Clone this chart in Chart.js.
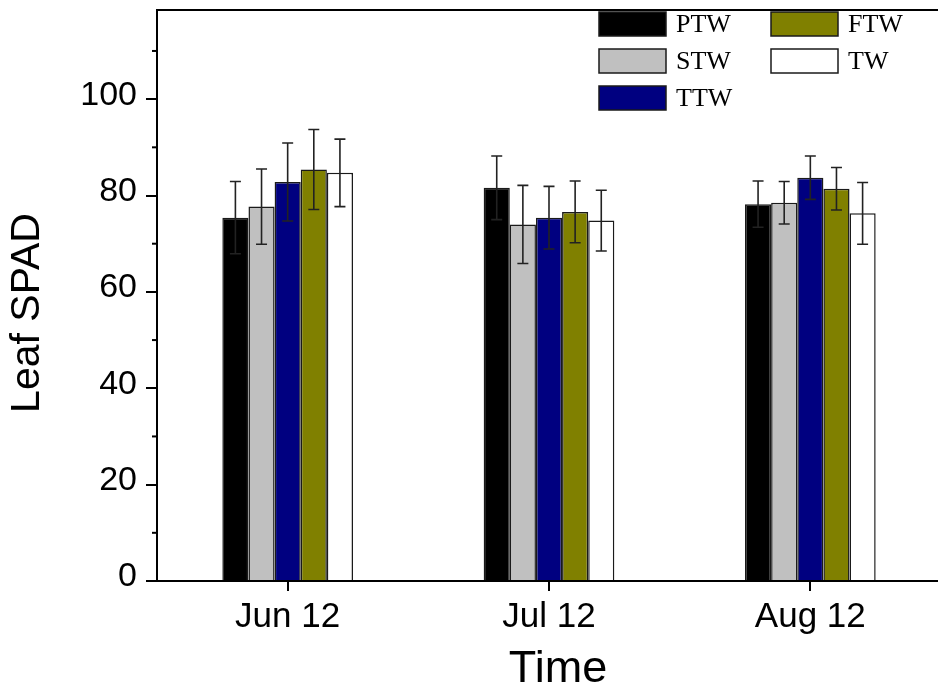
<!DOCTYPE html>
<html>
<head>
<meta charset="utf-8">
<title>Leaf SPAD</title>
<script src="https://cdn.jsdelivr.net/npm/chart.js@4.4.1/dist/chart.umd.min.js"></script>
<style>
  html, body { margin:0; padding:0; background:#fff; overflow:hidden; }
  canvas { display:block; }
</style>
</head>
<body>
<canvas id="spadChart" width="941" height="693"></canvas>
<script>
// Valores (media y desviación)
const CATEGORIES = ["Jun 12", "Jul 12", "Aug 12"];
const SERIES = ["PTW", "STW", "TTW", "FTW", "TW"];
const PTW = [75.4, 81.6, 78.2];
const STW = [77.7, 74.0, 78.5];
const TTW = [82.8, 75.4, 83.7];
const FTW = [85.4, 76.6, 81.4];
const TW  = [84.7, 74.8, 76.3];
const PTW_ERR = [7.5, 6.6, 4.8];
const STW_ERR = [7.8, 8.1, 4.4];
const TTW_ERR = [8.1, 6.5, 4.5];
const FTW_ERR = [8.3, 6.4, 4.4];
const TW_ERR  = [7.0, 6.3, 6.4];
const Y_TICKS = [0, 20, 40, 60, 80, 100];
const Y_MINOR = [10, 30, 50, 70, 90, 110];

const COLORS = ["#000000", "#c0c0c0", "#000080", "#808000", "#ffffff"];
const VALUES = [PTW, STW, TTW, FTW, TW];
const ERRORS = [PTW_ERR, STW_ERR, TTW_ERR, FTW_ERR, TW_ERR];

const SANS = "'Liberation Sans', Arial, sans-serif";
const SERIF = "'Liberation Serif', 'Times New Roman', serif";

// Barras de error, ticks menores, borde superior, leyenda y títulos
const extras = {
  id: "extras",
  afterDatasetsDraw(chart){
    const ctx = chart.ctx, y = chart.scales.y;
    ctx.save();
    ctx.strokeStyle = "#222";
    ctx.lineWidth = 1.6;
    chart.data.datasets.forEach((ds, di)=>{
      chart.getDatasetMeta(di).data.forEach((bar, i)=>{
        const hi = y.getPixelForValue(ds.data[i] + ds.err[i]);
        const lo = y.getPixelForValue(ds.data[i] - ds.err[i]);
        ctx.beginPath();
        ctx.moveTo(bar.x, hi); ctx.lineTo(bar.x, lo);
        ctx.moveTo(bar.x - 5.5, hi); ctx.lineTo(bar.x + 5.5, hi);
        ctx.moveTo(bar.x - 5.5, lo); ctx.lineTo(bar.x + 5.5, lo);
        ctx.stroke();
      });
    });
    ctx.restore();
  },
  afterDraw(chart){
    const ctx = chart.ctx, a = chart.chartArea, y = chart.scales.y;
    ctx.save();
    ctx.strokeStyle = "#000";
    ctx.lineWidth = 2;
    // borde superior
    ctx.beginPath();
    ctx.moveTo(a.left - 1, a.top); ctx.lineTo(a.right, a.top);
    ctx.stroke();
    // ticks menores
    Y_MINOR.forEach(v=>{
      const py = y.getPixelForValue(v);
      ctx.beginPath();
      ctx.moveTo(a.left - 5, py); ctx.lineTo(a.left, py);
      ctx.stroke();
    });

    // leyenda (2 columnas)
    ctx.font = "26px " + SERIF;
    ctx.textAlign = "left";
    ctx.textBaseline = "alphabetic";
    ctx.lineWidth = 1.5;
    chart.data.datasets.forEach((ds, i)=>{
      const col = i < 3 ? 0 : 1, row = i % 3;
      const bx = col ? 771 : 599, by = 12 + row * 37;
      ctx.fillStyle = ds.backgroundColor;
      ctx.fillRect(bx, by, 67, 24);
      ctx.strokeStyle = "#1a1a1a";
      ctx.strokeRect(bx, by, 67, 24);
      ctx.fillStyle = "#000";
      ctx.fillText(ds.label, bx + 77, by + 20);
    });

    // títulos de ejes
    ctx.fillStyle = "#000";
    ctx.textAlign = "center";
    ctx.textBaseline = "middle";
    ctx.font = "45px " + SANS;
    ctx.fillText("Time", 558, 670);
    ctx.translate(28, 313);
    ctx.rotate(-Math.PI / 2);
    ctx.font = "41px " + SANS;
    ctx.fillText("Leaf SPAD", 0, 0);
    ctx.restore();
  }
};

new Chart(document.getElementById("spadChart"), {
  type: "bar",
  data: {
    labels: CATEGORIES,
    datasets: SERIES.map((name, i)=>({
      label: name,
      data: VALUES[i],
      err: ERRORS[i],
      backgroundColor: COLORS[i],
      borderColor: "#1a1a1a",
      borderWidth: 1.5,
      categoryPercentage: 0.5,
      barPercentage: 1.0
    }))
  },
  options: {
    responsive: false,
    animation: false,
    layout: { padding: { top: 10, right: 0, left: 0, bottom: 0 } },
    scales: {
      x: {
        grid: { display: true, drawOnChartArea: false, offset: false, tickLength: 10, color: "#000", lineWidth: 2 },
        border: { display: true, color: "#000", width: 2 },
        ticks: { color: "#000", padding: 5, font: { family: SANS, size: 35 } },
        afterFit: s => { s.height = 112; s.paddingLeft = 0; s.paddingRight = 0; }
      },
      y: {
        min: 0,
        max: 118.5,
        afterBuildTicks: s => { s.ticks = Y_TICKS.map(v=>({value:v})); },
        grid: { drawOnChartArea: false, tickLength: 11, color: "#000", lineWidth: 2 },
        border: { display: true, color: "#000", width: 2 },
        ticks: { color: "#000", padding: 9, labelOffset: -4, font: { family: SANS, size: 34 } },
        afterFit: s => { s.width = 157; s.paddingTop = 0; s.paddingBottom = 0; }
      }
    },
    plugins: {
      legend: { display: false },
      tooltip: { enabled: false }
    }
  },
  plugins: [extras]
});
</script>
</body>
</html>
